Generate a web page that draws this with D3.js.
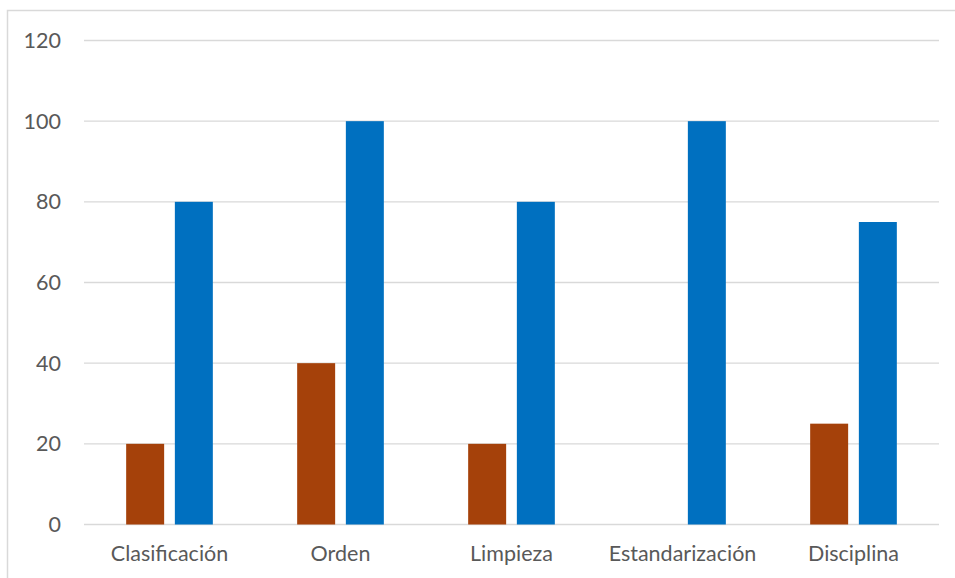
<!DOCTYPE html>
<html><head><meta charset="utf-8">
<script src="https://cdn.jsdelivr.net/npm/d3@7"></script>
<style>html,body{margin:0;padding:0;background:#fff;overflow:hidden}</style>
</head><body>
<svg id="c" width="955" height="578"></svg>
<script>
const categories = ["Clasificación","Orden","Limpieza","Estandarización","Disciplina"];
const seriesNames = ["Serie 1","Serie 2"];
const serie1 = [20, 40, 20, 0, 25];
const serie2 = [80, 100, 80, 100, 75];
const yTicks = [0, 20, 40, 60, 80, 100, 120];
const colors = ["#A5410A", "#0070C0"];

(function(){
const svg = d3.select("#c");
const font = "Lato, 'Open Sans', sans-serif";
svg.append("rect").attr("x",7.5).attr("y",10.5).attr("width",1000).attr("height",700)
  .attr("fill","#fff").attr("stroke","#d9d9d9").attr("stroke-width",1.5);

const pLeft = 84, pRight = 939, pTop = 40.5, pBottom = 524.5;
const x0 = d3.scaleBand().domain(categories).range([pLeft, pRight]).padding(0);
const x1 = d3.scaleBand().domain(seriesNames).range([0, x0.bandwidth()]).paddingInner(0.22).paddingOuter(0.866);
const y = d3.scaleLinear().domain([0, 120]).range([pBottom, pTop]);

const grid = svg.append("g");
grid.selectAll("line").data(yTicks).join("line")
  .attr("x1", pLeft).attr("x2", pRight)
  .attr("y1", d => y(d)).attr("y2", d => y(d))
  .attr("stroke", "#d9d9d9").attr("stroke-width", 1.3);

const yAxis = svg.append("g").attr("transform", `translate(${pLeft},0)`)
  .call(d3.axisLeft(y).tickValues(yTicks).tickSize(0).tickPadding(23));
yAxis.select(".domain").remove();
yAxis.selectAll("text").attr("font-family", font).attr("font-size", 21.5).attr("fill", "#595959");

const data = categories.map((c, i) => ({cat: c, vals: [serie1[i], serie2[i]]}));
const groups = svg.append("g").selectAll("g").data(data).join("g")
  .attr("transform", d => `translate(${x0(d.cat)},0)`);
groups.selectAll("rect").data(d => d.vals.map((v, j) => ({s: seriesNames[j], v, j})))
  .join("rect")
  .attr("x", d => x1(d.s)).attr("width", x1.bandwidth())
  .attr("y", d => y(d.v)).attr("height", d => y(0) - y(d.v))
  .attr("fill", d => colors[d.j]);

const xAxis = svg.append("g").attr("transform", `translate(0,${pBottom})`)
  .call(d3.axisBottom(x0).tickSize(0).tickPadding(21));
xAxis.select(".domain").remove();
xAxis.selectAll("text").attr("font-family", font).attr("font-size", 21.5).attr("fill", "#595959");
})();
</script>
</body></html>
